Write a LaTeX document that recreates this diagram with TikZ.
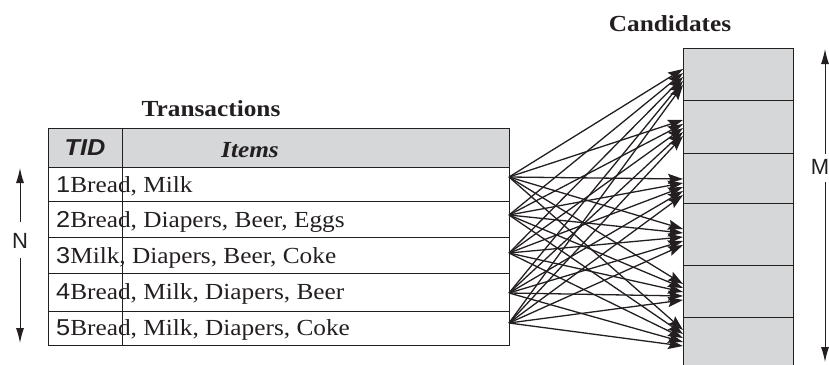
\documentclass[tikz,border=0pt]{standalone}
\usepackage{fontspec}
\setmainfont{Liberation Serif}[FakeStretch=1.1]
\newfontfamily\hvw{Liberation Sans}[FakeStretch=1.1]
\newfontfamily\hvn{Liberation Sans}
\usetikzlibrary{arrows.meta,calc}
\definecolor{ink}{HTML}{231F20}
\definecolor{cellgray}{HTML}{D6D7D9}
\newcommand\labelsize{\fontsize{23}{26}\selectfont}
\tikzset{
  tableline/.style={draw=ink, line width=1pt},
  rowbox/.style={tableline, minimum width=461pt, inner sep=0pt, anchor=north west},
  candbox/.style={draw=ink, line width=1pt, fill=cellgray, minimum width=110pt, inner sep=0pt, anchor=north west},
  rowtext/.style={anchor=base west, inner sep=0pt, text=ink, font=\labelsize},
  fan/.style={draw=ink, line width=1.3pt, -{Stealth[length=15pt,width=10pt,inset=2.5pt]}},
  span/.style={draw=ink, line width=1pt, -{Latex[length=15pt,width=8pt]}},
  title/.style={anchor=base, inner sep=0pt, text=ink, font={\labelsize\bfseries}},
  sidelabel/.style={inner sep=0pt, text=ink, font={\hvn\fontsize{22}{24}\selectfont}}
}
\begin{document}
\begin{tikzpicture}[x=1pt, y=-1pt]
\clip (0,0) rectangle (829,364);

% transactions table
\node[title] (ttitle) at (211,116) {Transactions};
\node[rowbox, fill=cellgray, minimum height=39pt] (hdr) at (48,128) {};
\node[rowbox, minimum height=34pt] (r1) at (48,167) {};
\node[rowbox, minimum height=36pt] (r2) at (48,201) {};
\node[rowbox, minimum height=36pt] (r3) at (48,237) {};
\node[rowbox, minimum height=38pt] (r4) at (48,273) {};
\node[rowbox, minimum height=34pt] (r5) at (48,311) {};
\draw[tableline] (122,128) -- (122,345);
\node[anchor=base, inner sep=0pt, text=ink, font={\labelsize\hvw\bfseries\itshape}] (tid) at (85,155) {TID};
\node[anchor=base, inner sep=0pt, text=ink, font={\labelsize\bfseries\itshape}] (items) at (250,157) {Items};
\node[rowtext] (t1) at (56,192) {{\hvw 1}Bread, Milk};
\node[rowtext] (t2) at (56,227) {{\hvw 2}Bread, Diapers, Beer, Eggs};
\node[rowtext] (t3) at (56,263) {{\hvw 3}Milk, Diapers, Beer, Coke};
\node[rowtext] (t4) at (56,299) {{\hvw 4}Bread, Milk, Diapers, Beer};
\node[rowtext] (t5) at (56,335) {{\hvw 5}Bread, Milk, Diapers, Coke};

% N marker
\node[sidelabel] (nlab) at (20,241) {N};
\coordinate (ntop) at (20,168);
\coordinate (nbot) at (20,343);
\draw[span] (nlab.north |- 0,222) -- (ntop);
\draw[span] (nlab.south |- 0,258) -- (nbot);

% candidates column
\node[title] (ctitle) at (670,31) {Candidates};
\foreach \j/\top/\h in {1/48/52, 2/100/53, 3/153/50, 4/203/62, 5/265/52, 6/317/70}
  \node[candbox, minimum height=\h pt] (c\j) at (683,\top) {};

% M marker
\node[sidelabel] (mlab) at (820,167) {M};
\coordinate (mtop) at (825,49);
\coordinate (mbot) at (825,362);
\draw[span] (825,154) -- (mtop);
\draw[span] (825,182) -- (mbot);

% transaction sources and candidate targets
\foreach \i/\sy in {1/177, 2/215, 3/253, 4/293, 5/323}
  \coordinate (s\i) at (509,\sy);
\foreach \j/\cy in {1/77, 2/128, 3/187, 4/237, 5/292, 6/338}
  \coordinate (k\j) at (683,\cy);

% every transaction is matched against every candidate
\foreach \i in {1,...,5}
  \foreach \j in {1,...,6}
    \draw[fan] (s\i) -- ($(k\j)+(0,{(\i-3)*4})$);
\end{tikzpicture}
\end{document}
